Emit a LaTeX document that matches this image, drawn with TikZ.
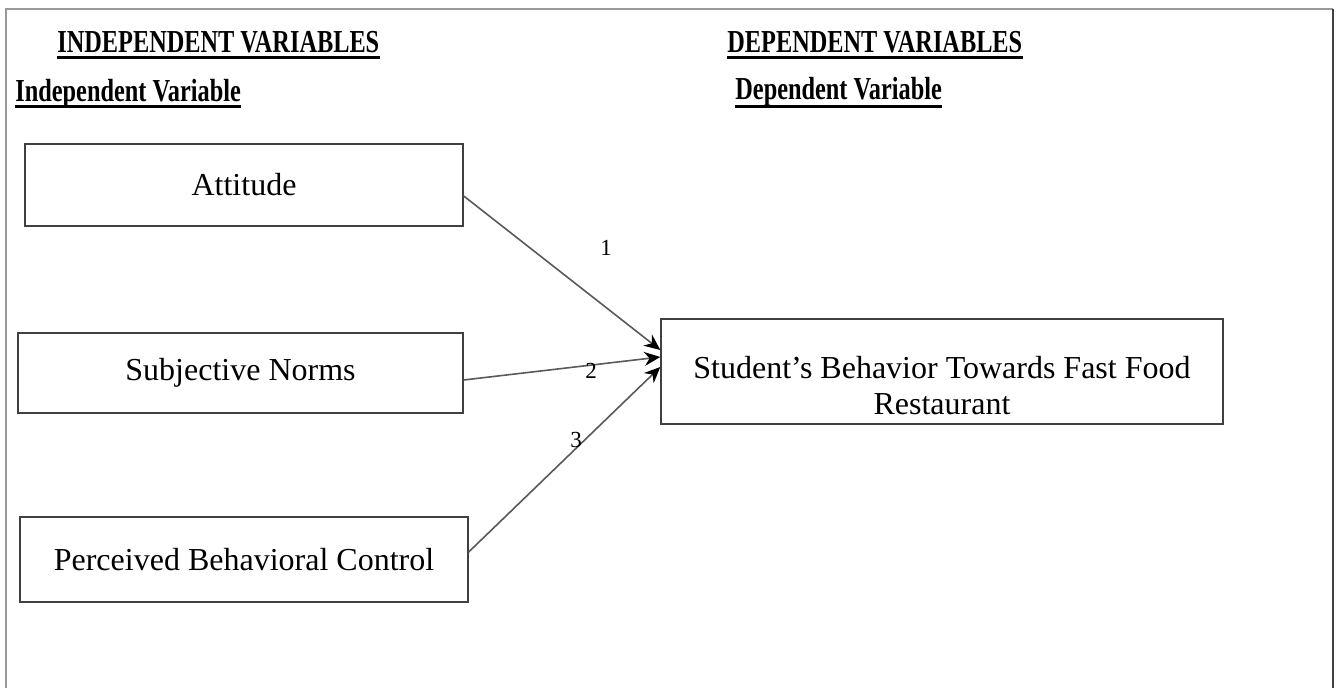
\documentclass[tikz,border=0pt]{standalone}
\usepackage{fontspec}
\setmainfont{Liberation Serif}
\newfontfamily\condfont{Liberation Serif}[FakeStretch=0.76]
\usetikzlibrary{arrows.meta}

\begin{document}
\begin{tikzpicture}[x=0.5pt,y=-0.5pt,
    varbox/.style={draw=black!75,line width=0.7pt,inner sep=0pt,align=center,font=\fontsize{16}{18.4}\selectfont},
    head/.style={anchor=base west,inner sep=0pt,font=\fontsize{16}{16}\selectfont\condfont\bfseries},
    uline/.style={line width=1.5pt},
    arr/.style={draw=black!65,line width=0.8pt,-{Stealth[length=8pt,width=7pt,black]}},
    num/.style={inner sep=1pt,font=\fontsize{11.5}{12}\selectfont}]
  \useasboundingbox (0,0) rectangle (1340,688);
  \draw[black!40,line width=1.4pt] (6,688) -- (6,9) -- (1333,9);
  \draw[black!75,line width=1.4pt] (1333,9) -- (1333,688);

  \node[head] (indhead) at (57,53) {INDEPENDENT VARIABLES};
  \node[head] (dephead) at (727,53) {DEPENDENT VARIABLES};
  \node[head] (indsub) at (15,102) {Independent Variable\ };
  \node[head] (depsub) at (735,100) {Dependent Variable};
  \draw[uline] ([yshift=-2.5pt]indhead.base west) -- ([yshift=-2.5pt]indhead.base east);
  \draw[uline] ([yshift=-2.5pt]dephead.base west) -- ([yshift=-2.5pt]dephead.base east);
  \draw[uline] ([yshift=-2.5pt]indsub.base west) -- ([yshift=-2.5pt]indsub.base east);
  \draw[uline] ([yshift=-3.5pt]depsub.base west) -- ([yshift=-3.5pt]depsub.base east);

  \node[varbox,minimum width=219pt,minimum height=41pt] (att) at (244,185) {Attitude};
  \node[varbox,minimum width=222.5pt,minimum height=40pt] (sn) at (240.5,373) {Subjective Norms};
  \node[varbox,minimum width=224pt,minimum height=42.5pt] (pbc) at (244,559.5) {\raisebox{-3pt}{Perceived Behavioral Control}};
  \node[varbox,minimum width=281pt,minimum height=52.5pt] (stu) at (942,371.5) {};
  \node[varbox,draw=none] (stutext) at ([yshift=-7pt]stu.center) {Student’s Behavior Towards Fast Food\\Restaurant};

  \draw[arr] ([yshift=-5.5pt]att.east) -- ([yshift=10.75pt]stu.west);
  \draw[arr] ([yshift=-3.5pt]sn.east) -- ([yshift=7.25pt]stu.west);
  \draw[arr] ([yshift=3.75pt]pbc.east) -- ([yshift=2.25pt]stu.west);

  \node[num] (n1) at (606,248) {1};
  \node[num] (n2) at (591,371) {2};
  \node[num] (n3) at (576,440) {3};
\end{tikzpicture}
\end{document}
